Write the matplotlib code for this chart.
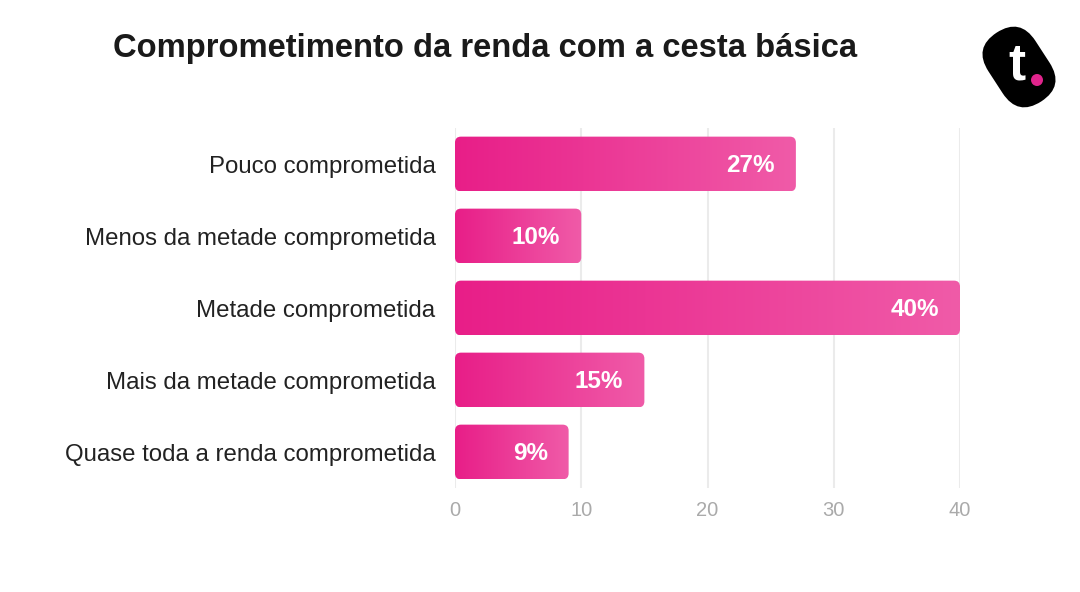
import numpy as np
import matplotlib
matplotlib.use("Agg")
import matplotlib.pyplot as plt
import matplotlib.patches as mpatches
import matplotlib.transforms as mtransforms
from matplotlib.colors import LinearSegmentedColormap

plt.rcParams['font.family'] = ['Liberation Sans', 'DejaVu Sans']

# data
categorias = ['Pouco comprometida', 'Menos da metade comprometida', 'Metade comprometida',
              'Mais da metade comprometida', 'Quase toda a renda comprometida']
valores = [27, 10, 40, 15, 9]
rotulos = ['27%', '10%', '40%', '15%', '9%']
xticks = [0, 10, 20, 30, 40]

fig = plt.figure(figsize=(10.8, 5.92), dpi=100)
ax = fig.add_axes([455/1080, 1 - 488/592, 505/1080, 360/592])

cmap = LinearSegmentedColormap.from_list('rosa', ['#e81e88', '#f05ba8'])
grad = np.linspace(0, 1, 256).reshape(1, -1)

h = 0.76
px_x = 505 / 40.0
px_y = 360 / 5.0
r = 6 / px_x
aspect = px_x / px_y

for i, (v, lab) in enumerate(zip(valores, rotulos)):
    patch = mpatches.FancyBboxPatch((0, i - h/2), v, h,
                                    boxstyle=f"round,pad=0,rounding_size={r}",
                                    mutation_aspect=aspect, fc='none', ec='none', zorder=2)
    ax.add_patch(patch)
    im = ax.imshow(grad, extent=[0, v, i + h/2, i - h/2], cmap=cmap, aspect='auto',
                   interpolation='bicubic', zorder=2)
    im.set_clip_path(patch)
    ax.text(v - 21/px_x, i + 2/px_y, lab, ha='right', va='center', color='white',
            fontsize=17.5, fontweight='bold', zorder=3)

ax.set_aspect('auto')
ax.set_xlim(0, 40)
ax.set_ylim(4.5, -0.5)

ax.set_xticks(xticks)
ax.set_xticklabels([str(t) for t in xticks], color='#aaaaaa', fontsize=14.5)
ax.set_yticks(range(len(categorias)))
ax.set_yticklabels(categorias, fontsize=17.3, color='#222222')
ax.tick_params(axis='both', length=0)
ax.tick_params(axis='x', pad=9)
ax.tick_params(axis='y', pad=14)
for t in xticks:
    ax.axvline(t, color='#ebebeb', lw=1.5, zorder=1)
for s in ax.spines.values():
    s.set_visible(False)

fig.text(113/1080, 1 - 49/592, 'Comprometimento da renda com a cesta básica',
         fontsize=23.6, fontweight='bold', color='#1a1a1a', va='center', ha='left')

# logo
lax = fig.add_axes([964/1080, 1 - 122/592, 110/1080, 110/592])
lax.set_xlim(-55, 55)
lax.set_ylim(-55, 55)
lax.set_aspect('equal')
lax.axis('off')
rot = mtransforms.Affine2D().rotate_deg(33) + lax.transData
blob = mpatches.FancyBboxPatch((-28, -41), 56, 82, boxstyle="round,pad=0,rounding_size=28",
                               fc='black', ec='none', transform=rot)
lax.add_patch(blob)
lax.text(-2, 1, 't', color='white', fontsize=37, fontweight='bold', ha='center', va='center')
lax.add_patch(mpatches.Circle((18, -13), 6, fc='#e0248c', ec='none'))

fig.savefig('out.png', dpi=100)
